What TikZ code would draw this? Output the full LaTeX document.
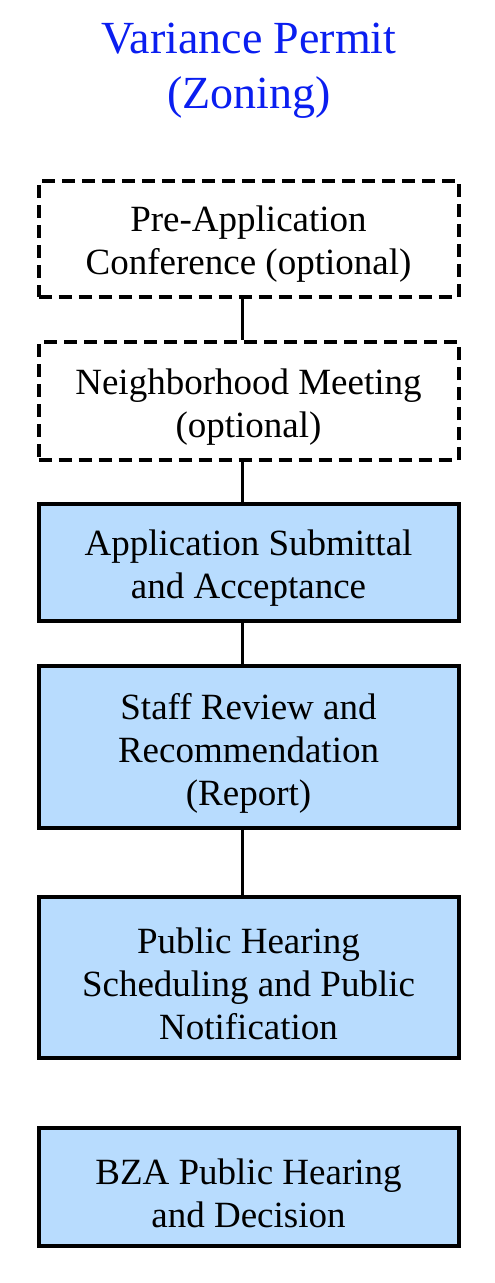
\documentclass[tikz,border=0pt]{standalone}
\usepackage{fontspec}
\setmainfont{Liberation Serif}
\definecolor{boxblue}{HTML}{B8DCFE}
\definecolor{titleblue}{HTML}{0A1EF0}
\begin{document}
\begin{tikzpicture}[x=1pt,y=-1pt,
  stepbox/.style={draw=black,line width=4pt,fill=boxblue,minimum width=420pt,inner sep=0pt},
  optbox/.style={stepbox,fill=white,dash pattern=on 13pt off 7pt},
  boxtext/.style={align=center,inner sep=0pt,font=\fontsize{37}{43}\selectfont},
  link/.style={line width=3.6pt}]
\useasboundingbox (0,0) rectangle (495,1283);
\node[text=titleblue,align=center,font=\fontsize{46}{55}\selectfont] (title) at (249,71) {Variance Permit\\(Zoning)};
\node[optbox,minimum height=116pt] (pre) at (248.5,239) {};
\node[optbox,minimum height=118pt] (nbr) at (248.5,401) {};
\node[stepbox,minimum height=117pt] (app) at (248.5,562.5) {};
\node[stepbox,minimum height=162pt] (rev) at (248.5,747) {};
\node[stepbox,minimum height=161pt] (hear) at (248.5,977.5) {};
\node[stepbox,minimum height=118pt] (bza) at (248.5,1187) {};
\node[boxtext] (pret) at ([yshift=-5pt]pre.center) {Pre-Application\\Conference (optional)};
\node[boxtext] (nbrt) at ([yshift=-6pt]nbr.center) {Neighborhood Meeting\\(optional)};
\node[boxtext] (appt) at ([yshift=-6pt]app.center) {Application Submittal\\and Acceptance};
\node[boxtext] (revt) at ([yshift=-6pt]rev.center) {Staff Review and\\Recommendation\\(Report)};
\node[boxtext] (heart) at ([yshift=-6pt]hear.center) {Public Hearing\\Scheduling and Public\\Notification};
\node[boxtext] (bzat) at ([yshift=-6pt]bza.center) {BZA Public Hearing\\and Decision};
\foreach \a/\b in {pre/nbr,nbr/app,app/rev,rev/hear}
  \draw[link] ([xshift=-6pt]\a.south) -- ([xshift=-6pt]\b.north);
\end{tikzpicture}
\end{document}
